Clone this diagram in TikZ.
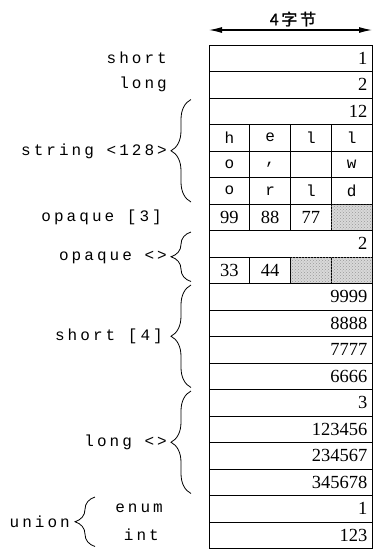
\documentclass[tikz,border=0pt]{standalone}
\usepackage{fontspec}
\setmainfont{Liberation Serif}
\newfontfamily\lblfont[LetterSpace=19]{Liberation Mono}
\newfontfamily\cjk[FakeBold=1.2]{Noto Sans CJK SC}
\usepackage{tikz}
\usetikzlibrary{arrows.meta,positioning,calc,decorations.pathreplacing,patterns}

\begin{document}
\begin{tikzpicture}[
    x=1pt, y=-1pt,
    font=\fontsize{18.5}{21}\selectfont,
    row/.style={draw, line width=0.9pt, outer sep=0pt, inner xsep=4.5pt, text width=154pt, align=right, minimum height=26.5pt},
    cell/.style={draw, line width=0.9pt, outer sep=0pt, inner sep=0pt, minimum width=40.75pt, minimum height=26.5pt},
    chr/.style={cell, font=\lblfont\fontsize{16}{18}\selectfont},
    pad/.style={cell, fill=gray!30, postaction={pattern=crosshatch dots, pattern color=gray!80}},
    lbl/.style={font=\lblfont\fontsize{16}{18}\selectfont, inner sep=0pt},
    brace/.style={decorate, decoration={brace, amplitude=20pt}, line width=0.8pt},
    width/.style={{Latex[length=13pt,width=6pt]}-{Latex[length=13pt,width=6pt]}, line width=1.1pt}
]
\useasboundingbox (0,0) rectangle (373,550);

% word rows
\node[row, anchor=north west] (r1) at (209,45) {1};
\node[row, below=0pt of r1] (r2) {2};
\node[row, below=0pt of r2] (r3) {12};
\node[chr, below right=0pt and 0pt of r3.south west] (r4a) {h};
\node[chr, right=0pt of r4a] (r4b) {e};
\node[chr, right=0pt of r4b] (r4c) {l};
\node[chr, right=0pt of r4c] (r4d) {l};
\node[chr, below=0pt of r4a] (r5a) {o};
\node[chr, right=0pt of r5a] (r5b) {,};
\node[chr, right=0pt of r5b] (r5c) {};
\node[chr, right=0pt of r5c] (r5d) {w};
\node[chr, below=0pt of r5a] (r6a) {o};
\node[chr, right=0pt of r6a] (r6b) {r};
\node[chr, right=0pt of r6b] (r6c) {l};
\node[chr, right=0pt of r6c] (r6d) {d};
\node[cell, below=0pt of r6a] (r7a) {99};
\node[cell, right=0pt of r7a] (r7b) {88};
\node[cell, right=0pt of r7b] (r7c) {77};
\node[pad, right=0pt of r7c] (r7d) {};
\node[row, below right=0pt and 0pt of r7a.south west] (r8) {2};
\node[cell, below right=0pt and 0pt of r8.south west] (r9a) {33};
\node[cell, right=0pt of r9a] (r9b) {44};
\node[pad, right=0pt of r9b] (r9c) {};
\node[pad, right=0pt of r9c] (r9d) {};
\node[row, below right=0pt and 0pt of r9a.south west] (r10) {9999};
\node[row, below=0pt of r10] (r11) {8888};
\node[row, below=0pt of r11] (r12) {7777};
\node[row, below=0pt of r12] (r13) {6666};
\node[row, below=0pt of r13] (r14) {3};
\node[row, below=0pt of r14] (r15) {123456};
\node[row, below=0pt of r15] (r16) {234567};
\node[row, below=0pt of r16] (r17) {345678};
\node[row, below=0pt of r17] (r18) {1};
\node[row, below=0pt of r18] (r19) {123};

% width arrow
\coordinate (wl) at (209,30);
\coordinate (wr) at (372,30);
\draw[width] (wl) -- (wr);
\node[font=\cjk\fontsize{16}{18}\selectfont, above=0pt of $(wl)!0.515!(wr)$] (wlab) {4\,字\,节};

% labels
\node[lbl, left=42pt of r1.west] (lshort) {short};
\node[lbl, left=42pt of r2.west] (llong) {long};
\node[lbl, left=42pt of r4a.south west] (lstr) {string <128>};
\node[lbl, left=47pt of r7a.west] (lopq) {opaque [3]};
\node[lbl, left=42pt of r8.south west] (lvopq) {opaque <>};
\node[lbl, left=46pt of r11.south west] (lsarr) {short [4]};
\node[lbl, left=42pt of r15.south west] (lvlong) {long <>};
\node[lbl, left=46pt of r18.west] (lenum) {enum};
\node[lbl, left=50pt of r19.west] (lint) {int};
\node[lbl, left=139pt of r18.south west] (lunion) {union};

% braces
\draw[brace] ([xshift=-18pt,yshift=2pt]r6a.south west) -- ([xshift=-18pt,yshift=-1.5pt]r3.north west);
\draw[brace] ([xshift=-18pt,yshift=2pt]r9a.south west) -- ([xshift=-18pt,yshift=-1.5pt]r8.north west);
\draw[brace] ([xshift=-18pt,yshift=2pt]r13.south west) -- ([xshift=-18pt,yshift=-1.5pt]r10.north west);
\draw[brace] ([xshift=-18pt,yshift=2pt]r17.south west) -- ([xshift=-18pt,yshift=-1.5pt]r14.north west);
\draw[brace] ([xshift=-114pt,yshift=2pt]r19.south west) -- ([xshift=-114pt,yshift=-1.5pt]r18.north west);
\end{tikzpicture}
\end{document}
